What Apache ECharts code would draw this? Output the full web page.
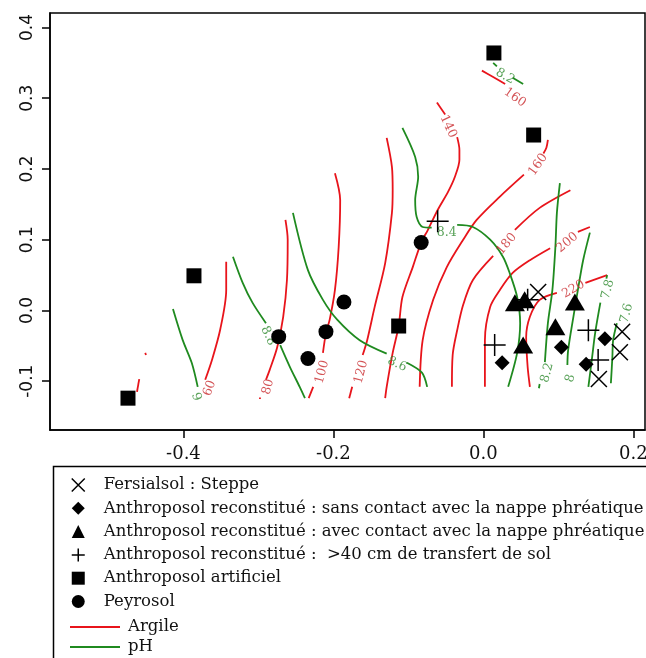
<!DOCTYPE html>
<html>
<head>
<meta charset="utf-8">
<script src="https://cdn.jsdelivr.net/npm/echarts@6/dist/echarts.min.js"></script>
<style>
html, body { margin: 0; padding: 0; background: #fff; }
#main { width: 646px; height: 658px; }
</style>
</head>
<body>
<div id="main"></div>
<script>
//////////// 데이터 ////////////
// graduations
var xTicks = [-0.4, -0.2, 0.0, 0.2];
var yTicks = [-0.1, 0.0, 0.1, 0.2, 0.3, 0.4];

// sites (axe 1, axe 2)
var fersialsol = [[0.073, 0.026], [0.185, -0.030], [0.182, -0.059], [0.154, -0.097]];
var sansContact = [[0.025, -0.074], [0.104, -0.052], [0.137, -0.076], [0.162, -0.040]];
var avecContact = [[0.042, 0.011], [0.055, 0.015], [0.122, 0.012], [0.096, -0.023], [0.053, -0.049]];
var transfert = [[-0.061, 0.126], [0.059, 0.015], [0.015, -0.049], [0.140, -0.028], [0.153, -0.070]];
var artificiel = [[0.014, 0.364], [0.067, 0.248], [-0.386, 0.049], [-0.474, -0.124], [-0.113, -0.022]];
var peyrosol = [[-0.083, 0.096], [-0.186, 0.012], [-0.210, -0.030], [-0.273, -0.037], [-0.234, -0.068]];

// isolignes Argile : morceaux de courbe + étiquette [x, y, angle]
var argile = [
	{level: '', segs: [[[-0.451, -0.060], [-0.450, -0.063]], [[-0.459, -0.097], [-0.462, -0.115]]]},
	{level: '60', segs: [[[-0.343, 0.069], [-0.343, 0.029], [-0.351, -0.027], [-0.362, -0.070], [-0.371, -0.098]]], lab: [-0.365, -0.110, 70]},
	{level: '80', segs: [[[-0.264, 0.128], [-0.261, 0.100], [-0.262, 0.043], [-0.267, -0.009], [-0.275, -0.052], [-0.285, -0.084], [-0.290, -0.098]],
		[[-0.298, -0.123], [-0.298, -0.125]]], lab: [-0.287, -0.108, 75]},
	{level: '100', segs: [[[-0.198, 0.194], [-0.191, 0.156], [-0.193, 0.090], [-0.198, 0.029], [-0.205, -0.013], [-0.210, -0.032], [-0.214, -0.060]],
		[[-0.227, -0.108], [-0.233, -0.124]]], lab: [-0.215, -0.087, 75]},
	{level: '120', segs: [[[-0.129, 0.244], [-0.122, 0.203], [-0.121, 0.170], [-0.122, 0.138], [-0.131, 0.067], [-0.145, 0.005], [-0.155, -0.042], [-0.161, -0.063]],
		[[-0.175, -0.108], [-0.179, -0.124]]], lab: [-0.163, -0.087, 75]},
	{level: '140', segs: [[[-0.062, 0.294], [-0.051, 0.277]],
		[[-0.035, 0.245], [-0.032, 0.227], [-0.032, 0.213], [-0.038, 0.189], [-0.047, 0.168], [-0.061, 0.142], [-0.074, 0.114], [-0.083, 0.096],
		 [-0.094, 0.062], [-0.108, 0.019], [-0.113, -0.022], [-0.121, -0.060], [-0.129, -0.108], [-0.131, -0.124]]], lab: [-0.047, 0.260, -65]},
	{level: '160', segs: [[[-0.002, 0.339], [0.013, 0.330], [0.029, 0.320]]], lab: [0.042, 0.301, -35]},
	{level: '160', segs: [[[0.086, 0.241], [0.084, 0.230], [0.080, 0.222]],
		[[0.054, 0.192], [0.022, 0.161], [-0.009, 0.128], [-0.027, 0.100], [-0.049, 0.061], [-0.067, 0.015], [-0.081, -0.042], [-0.085, -0.108]]], lab: [0.073, 0.206, 55]},
	{level: '180', segs: [[[0.116, 0.170], [0.075, 0.145], [0.042, 0.114]],
		[[0.013, 0.077], [-0.014, 0.043], [-0.027, 0.008], [-0.035, -0.028], [-0.041, -0.063], [-0.042, -0.108]]], lab: [0.031, 0.094, 50]},
	{level: '200', segs: [[[0.142, 0.118], [0.126, 0.111]],
		[[0.089, 0.088], [0.062, 0.071], [0.039, 0.053], [0.022, 0.029], [0.009, 0.005], [0.002, -0.042], [0.002, -0.108]]], lab: [0.112, 0.096, 40]},
	{level: '220', segs: [[[0.165, 0.050], [0.136, 0.039]],
		[[0.098, 0.025], [0.075, 0.015], [0.062, -0.009], [0.057, -0.038], [0.059, -0.080], [0.062, -0.108]]], lab: [0.120, 0.030, 30]}
];

// isolignes pH
var ph = [
	{level: '9', segs: [[[-0.414, 0.002], [-0.401, -0.042], [-0.389, -0.074], [-0.381, -0.108]]], lab: [-0.383, -0.122, -70]},
	{level: '8.8', segs: [[[-0.334, 0.076], [-0.321, 0.039], [-0.308, 0.011], [-0.290, -0.018]],
		[[-0.271, -0.049], [-0.258, -0.080], [-0.245, -0.108], [-0.238, -0.124]]], lab: [-0.287, -0.036, -65]},
	{level: '8.6', segs: [[[-0.254, 0.138], [-0.234, 0.057], [-0.214, 0.015], [-0.195, -0.013], [-0.165, -0.042], [-0.129, -0.061]],
		[[-0.102, -0.074], [-0.082, -0.088], [-0.075, -0.108]]], lab: [-0.115, -0.076, -25]},
	{level: '8.4', segs: [[[-0.108, 0.258], [-0.091, 0.217], [-0.087, 0.189], [-0.091, 0.156], [-0.089, 0.132], [-0.081, 0.118], [-0.069, 0.117]],
		[[-0.035, 0.121], [-0.014, 0.118], [0.009, 0.100], [0.026, 0.076], [0.035, 0.053], [0.045, 0.019], [0.049, -0.018], [0.045, -0.060], [0.033, -0.108]]], lab: [-0.049, 0.110, 0]},
	{level: '8.2', segs: [[[0.013, 0.350], [0.018, 0.345]], [[0.039, 0.329], [0.053, 0.320]]], lab: [0.029, 0.331, -30]},
	{level: '8.2', segs: [[[0.102, 0.180], [0.098, 0.138], [0.096, 0.090], [0.092, 0.029], [0.086, -0.018], [0.082, -0.073]],
		[[0.075, -0.104], [0.074, -0.110]]], lab: [0.085, -0.088, 75]},
	{level: '8', segs: [[[0.142, 0.110], [0.133, 0.071], [0.126, 0.029], [0.120, -0.009], [0.113, -0.056], [0.112, -0.077]]], lab: [0.116, -0.096, 75]},
	{level: '7.8', segs: [[[0.165, 0.050], [0.164, 0.045]], [[0.156, 0.011], [0.149, -0.032], [0.145, -0.066], [0.140, -0.108]]], lab: [0.166, 0.030, 75]},
	{level: '7.6', segs: [[[0.178, -0.018], [0.173, -0.042], [0.172, -0.066], [0.170, -0.103]]], lab: [0.191, -0.004, 75]}
];

//////////// 설정 ////////////
var RED = '#e8141b';
var GREEN = '#1f8a1f';
var PATH_X = 'path://M0,0L10,10M10,0L0,10';
var PATH_PLUS = 'path://M0,5L10,5M5,0L5,10';
var STROKE = {color: '#000', borderColor: '#000', borderWidth: 1.5, opacity: 1};
var FILL = {color: '#000', opacity: 1};

showChart();

// 차트 표시
function showChart() {
	var chart = echarts.init(document.getElementById('main'));

	var series = [];
	series = series.concat(contourLines('Argile', argile, RED));
	series = series.concat(contourLines('pH', ph, GREEN));
	series.push(contourLabels('lab-argile', argile, '#c8282c'));
	series.push(contourLabels('lab-ph', ph, '#2e8a2e'));

	series.push(points('Fersialsol : Steppe', fersialsol, PATH_X, 16, STROKE));
	series.push(points('Anthroposol reconstitué : sans contact avec la nappe phréatique', sansContact, 'diamond', 15, FILL));
	series.push(points('Anthroposol reconstitué : avec contact avec la nappe phréatique', avecContact, 'triangle', [20, 17], FILL));
	series.push(points('Anthroposol reconstitué :  >40 cm de transfert de sol', transfert, PATH_PLUS, 22, STROKE));
	series.push(points('Anthroposol artificiel', artificiel, 'rect', 15, FILL));
	series.push(points('Peyrosol', peyrosol, 'circle', 15, FILL));

	var legendFont = {fontFamily: 'DejaVu Serif', fontSize: 16.5, color: '#111', lineHeight: 20};

	var option = {
		animation: false,
		backgroundColor: '#fff',
		grid: {left: 50, top: 13, right: 1, bottom: 228, containLabel: false, outerBoundsMode: 'none',
			show: true, borderColor: '#000', borderWidth: 1.5},
		xAxis: {
			type: 'value', min: -0.578, max: 0.2155,
			splitLine: {show: false},
			axisLine: {onZero: false, lineStyle: {color: '#000', width: 1.5}},
			axisTick: {inside: false, length: 8, lineStyle: {color: '#000', width: 1.5}, customValues: xTicks},
			axisLabel: {customValues: xTicks, margin: 15, color: '#111', fontFamily: 'DejaVu Serif', fontSize: 18,
				formatter: function (v) { return v.toFixed(1); }}
		},
		yAxis: {
			type: 'value', min: -0.169, max: 0.4205,
			splitLine: {show: false},
			axisLine: {onZero: false, lineStyle: {color: '#000', width: 1.5}},
			axisTick: {inside: false, length: 8, lineStyle: {color: '#000', width: 1.5}, customValues: yTicks},
			axisLabel: {customValues: yTicks, rotate: 90, margin: 14, color: '#111', fontFamily: 'DejaVu Sans', fontSize: 17,
				formatter: function (v) { return v.toFixed(1); }}
		},
		legend: [{
			orient: 'vertical', left: 71, top: 475, padding: 0, height: 150,
			itemWidth: 13, itemHeight: 13, itemGap: 3.3,
			textStyle: Object.assign({padding: [0, 0, 0, 14]}, legendFont),
			data: [
				{name: 'Fersialsol : Steppe', icon: PATH_X, itemStyle: STROKE},
				{name: 'Anthroposol reconstitué : sans contact avec la nappe phréatique', icon: 'diamond', itemStyle: FILL},
				{name: 'Anthroposol reconstitué : avec contact avec la nappe phréatique', icon: 'triangle', itemStyle: FILL},
				{name: 'Anthroposol reconstitué :  >40 cm de transfert de sol', icon: PATH_PLUS, itemStyle: STROKE},
				{name: 'Anthroposol artificiel', icon: 'rect', itemStyle: FILL},
				{name: 'Peyrosol', icon: 'circle', itemStyle: FILL}
			]
		}, {
			orient: 'vertical', left: 70, top: 617, padding: 0, height: 60,
			itemWidth: 50, itemHeight: 2, itemGap: 0,
			textStyle: Object.assign({padding: [0, 0, 0, 3]}, legendFont),
			data: [
				{name: 'Argile', icon: 'rect', itemStyle: {color: RED}},
				{name: 'pH', icon: 'rect', itemStyle: {color: GREEN}}
			]
		}],
		graphic: [{
			type: 'rect', left: 51, top: 464, silent: true,
			shape: {width: 700, height: 300},
			style: {fill: 'none', stroke: '#000', lineWidth: 1.5}
		}],
		series: series
	};

	chart.setOption(option);
}

//////////// 유틸 ////////////
// 등고선 (morceaux séparés)
function contourLines(name, list, color) {
	var out = [];
	list.forEach(function (c) {
		c.segs.forEach(function (s) {
			out.push({
				name: name, type: 'line', data: s,
				symbol: 'none', showSymbol: false, smooth: 0.3, silent: true, z: 2,
				lineStyle: {color: color, width: 1.8},
				itemStyle: {color: color}
			});
		});
	});
	return out;
}

// 등고선 라벨
function contourLabels(name, list, color) {
	var data = [];
	list.forEach(function (c) {
		if (!c.lab) return;
		data.push({
			value: [c.lab[0], c.lab[1]],
			label: {show: true, position: 'inside', formatter: c.level, rotate: c.lab[2]}
		});
	});
	return {
		name: name, type: 'scatter', data: data, symbolSize: 1, silent: true, z: 3,
		itemStyle: {color: 'rgba(0,0,0,0)'},
		label: {color: color, fontFamily: 'DejaVu Serif', fontSize: 12.5}
	};
}

// 관측 지점
function points(name, data, symbol, size, style) {
	return {
		name: name, type: 'scatter', data: data,
		symbol: symbol, symbolSize: size, z: 5,
		itemStyle: style
	};
}
</script>
</body>
</html>
